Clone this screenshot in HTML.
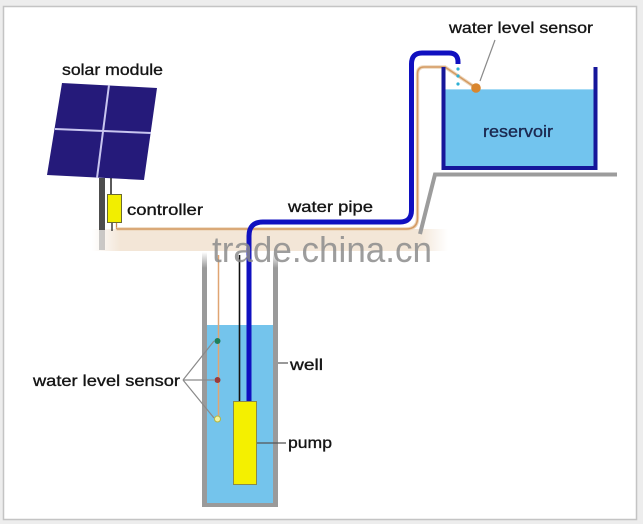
<!DOCTYPE html>
<html>
<head>
<meta charset="utf-8">
<style>
  html,body{margin:0;padding:0;background:#efefef;}
  body{width:643px;height:524px;overflow:hidden;}
  svg{display:block;}
  text{font-family:"Liberation Sans","DejaVu Sans",sans-serif;fill:#151515;}
  .lbl{stroke:#151515;stroke-width:0.35;}
</style>
</head>
<body>
<svg width="643" height="524" viewBox="0 0 643 524" xmlns="http://www.w3.org/2000/svg">
  <defs>
    <linearGradient id="band" x1="0" y1="0" x2="1" y2="0">
      <stop offset="0" stop-color="#f3e7da" stop-opacity="0"/>
      <stop offset="0.08" stop-color="#f3e6d7"/>
      <stop offset="0.92" stop-color="#f3e6d7"/>
      <stop offset="1" stop-color="#f3e7da" stop-opacity="0"/>
    </linearGradient>
    <linearGradient id="wallfade" x1="0" y1="0" x2="0" y2="1">
      <stop offset="0" stop-color="#9a9a9a" stop-opacity="0"/>
      <stop offset="1" stop-color="#9a9a9a" stop-opacity="1"/>
    </linearGradient>
  </defs>

  <!-- outer frame -->
  <rect x="0" y="0" width="643" height="524" fill="#ededed"/>
  <rect x="3.5" y="6.5" width="633" height="513" fill="#ffffff" stroke="#c4c4c4" stroke-width="1.5"/>

  <!-- beige blurred band -->
  <rect x="92" y="229" width="356" height="22" fill="url(#band)"/>

  <!-- solar panel -->
  <polygon points="62,83 157,88 144,180 47,175" fill="#251a7a"/>
  <line x1="109" y1="85" x2="97" y2="178" stroke="#c9c6f0" stroke-width="2"/>
  <line x1="55" y1="129" x2="151" y2="133" stroke="#c9c6f0" stroke-width="2"/>
  <!-- pole -->
  <rect x="99" y="178" width="6" height="52" fill="#4d4d4d"/>
  <rect x="99" y="230" width="6" height="20" fill="#9a9a9a" opacity="0.5"/>
  <!-- wire panel to controller -->
  <line x1="111" y1="178" x2="111" y2="195" stroke="#222" stroke-width="1.5"/>
  <!-- controller -->
  <rect x="107.5" y="194.5" width="14" height="28" fill="#f2ee00" stroke="#6a6a30" stroke-width="1"/>
  <line x1="112" y1="223" x2="112" y2="231" stroke="#222" stroke-width="1.3"/>
  <line x1="116.5" y1="223" x2="116.5" y2="229" stroke="#c98a50" stroke-width="1.3"/>

  <!-- tan cable from controller to reservoir -->
  <path d="M116.5,229 L406,229 Q417.5,229 417.5,218 L417.5,74 Q417.5,67 424,67 L445,67 L476,88" fill="none" stroke="#ecd6bb" stroke-width="3.5"/>
  <path d="M116.5,229 L406,229 Q417.5,229 417.5,218 L417.5,74 Q417.5,67 424,67 L445,67 L476,88" fill="none" stroke="#d49a62" stroke-width="1.5"/>

  <!-- ground stand for reservoir -->
  <path d="M420,234 L435,174.5 L617,174.5" fill="none" stroke="#9c9c9c" stroke-width="4"/>

  <!-- reservoir -->
  <rect x="445" y="89" width="149" height="78" fill="#72c4ee"/>
  <line x1="445" y1="89.5" x2="594" y2="89.5" stroke="#a6dbf5" stroke-width="1"/>
  <path d="M443.5,67 L443.5,168 L595.5,168 L595.5,67" fill="none" stroke="#16169a" stroke-width="4"/>
  <text class="lbl" x="483" y="137" font-size="17" textLength="70" lengthAdjust="spacingAndGlyphs" style="fill:#1b2850;stroke:#1b2850">reservoir</text>

  <!-- cyan water drops -->
  <circle cx="458" cy="69" r="1.6" fill="#2fb0d4"/>
  <circle cx="458" cy="76" r="1.6" fill="#2fb0d4"/>
  <circle cx="458" cy="84" r="1.6" fill="#2fb0d4"/>

  <!-- reservoir sensor ball -->
  <circle cx="476" cy="88" r="4.8" fill="#d9862e"/>
  <line x1="495" y1="40" x2="480" y2="81" stroke="#8a8a8a" stroke-width="1.2"/>

  <!-- well -->
  <rect x="207" y="325" width="66" height="178" fill="#74c4ec"/>
  <rect x="202" y="268" width="5" height="239" fill="#9a9a9a"/>
  <rect x="273" y="268" width="5" height="239" fill="#9a9a9a"/>
  <rect x="202" y="503" width="76" height="4" fill="#9a9a9a"/>
  <rect x="202" y="252" width="5" height="16" fill="url(#wallfade)"/>
  <rect x="273" y="252" width="5" height="16" fill="url(#wallfade)"/>

  <!-- tan sensor wire in well -->
  <line x1="218.5" y1="255" x2="218.5" y2="418" stroke="#e0a572" stroke-width="1.5"/>
  <!-- black wire -->
  <line x1="239.5" y1="255" x2="239.5" y2="401" stroke="#111" stroke-width="1.6"/>

  <!-- blue water pipe -->
  <path d="M249,401 L249,236 Q249,222 263,222 L400,222 Q411.5,222 411.5,210 L411.5,64 Q411.5,53 422,53 L449,53 Q458,53 458,62 L458,64" fill="none" stroke="#1010c0" stroke-width="5"/>

  <!-- pump -->
  <rect x="233.5" y="401.5" width="23" height="83" fill="#f4f000" stroke="#8a8a4a" stroke-width="1"/>

  <!-- sensor dots -->
  <circle cx="217.5" cy="341" r="3" fill="#1c7f5c"/>
  <circle cx="217.5" cy="380" r="3" fill="#9b3a3a"/>
  <circle cx="217.5" cy="419" r="3" fill="#f4f4a0" stroke="#b6b640" stroke-width="1"/>

  <!-- left sensor leaders -->
  <path d="M183,380 L214,341 M183,380 L214,380 M183,380 L214,418" fill="none" stroke="#8a8a8a" stroke-width="1.2"/>
  <!-- well & pump leaders -->
  <line x1="278" y1="363" x2="288" y2="363" stroke="#555" stroke-width="1.2"/>
  <line x1="257" y1="443" x2="286" y2="443" stroke="#555" stroke-width="1.2"/>

  <!-- watermark -->
  <text x="212" y="262" font-size="36" textLength="220" lengthAdjust="spacingAndGlyphs" style="fill:#8c8c8c" opacity="0.85">trade.china.cn</text>

  <!-- labels -->
  <text class="lbl" x="62" y="75" font-size="16" textLength="101" lengthAdjust="spacingAndGlyphs">solar module</text>
  <text class="lbl" x="127" y="215" font-size="16" textLength="76" lengthAdjust="spacingAndGlyphs">controller</text>
  <text class="lbl" x="288" y="212" font-size="16" textLength="85" lengthAdjust="spacingAndGlyphs">water pipe</text>
  <text class="lbl" x="449" y="33" font-size="16" textLength="144" lengthAdjust="spacingAndGlyphs">water level sensor</text>
  <text class="lbl" x="33" y="386" font-size="16" textLength="147" lengthAdjust="spacingAndGlyphs">water level sensor</text>
  <text class="lbl" x="290" y="370" font-size="16" textLength="33" lengthAdjust="spacingAndGlyphs">well</text>
  <text class="lbl" x="288" y="448" font-size="16" textLength="44" lengthAdjust="spacingAndGlyphs">pump</text>
</svg>
</body>
</html>
